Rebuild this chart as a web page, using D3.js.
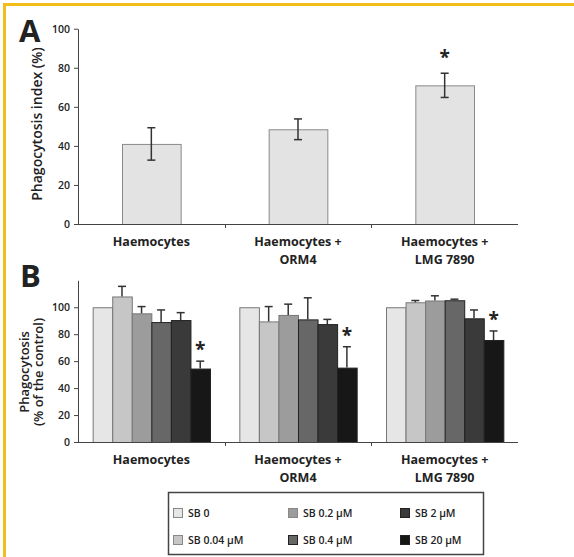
<!DOCTYPE html>
<html>
<head>
<meta charset="utf-8">
<script src="https://cdn.jsdelivr.net/npm/d3@7"></script>
<style>
  body { margin: 0; background: #fff; }
  svg { display: block; }
  text { font-family: "Open Sans", "DejaVu Sans", sans-serif; fill: #222; }
</style>
</head>
<body>
<svg id="chart"></svg>
<script>
// groups shared by both panels
var groupLabels = [["Haemocytes"], ["Haemocytes +", "ORM4"], ["Haemocytes +", "LMG 7890"]];

// panel A: phagocytosis index (%)
var indexA = [41, 48.5, 71];
var errA = [8.3, 5.3, 6.2];
var sigA = [false, false, true];
var ticksA = [0, 20, 40, 60, 80, 100];

// panel B: phagocytosis (% of the control), one row per group, one column per dose
var doses = ["SB 0", "SB 0.04 \u00b5M", "SB 0.2 \u00b5M", "SB 0.4 \u00b5M", "SB 2 \u00b5M", "SB 20 \u00b5M"];
var valuesB = [
	[100, 108, 95.5, 89, 90.5, 54.5],
	[100, 89.5, 94.3, 91, 87.5, 55.2],
	[100, 103.7, 105, 105.2, 91.8, 75.7]
];
var errB = [
	[0, 7.5, 5, 9, 5.5, 5.5],
	[0, 11, 8, 16, 3.5, 15.5],
	[0, 1.3, 3.5, 0.8, 6.2, 6.7]
];
var sigB = [
	[false, false, false, false, false, true],
	[false, false, false, false, false, true],
	[false, false, false, false, false, true]
];
var ticksB = [0, 20, 40, 60, 80, 100];

var doseColors = ["#e6e6e6", "#c6c6c6", "#9c9c9c", "#676767", "#3a3a3a", "#171717"];

var w = 574, h = 557;
var svg = d3.select('#chart').attr('width', w).attr('height', h);
svg.append('rect').attr('width', w).attr('height', h).attr('fill', '#fff');

// yellow frame (top and left only)
svg.append('path')
	.attr('d', 'M4.5,' + h + 'V4.5H' + w)
	.attr('fill', 'none')
	.attr('stroke', '#f3bd1b')
	.attr('stroke-width', 3);

var x0 = 78, x1 = 518;
var axisColor = '#444';

function styleAxis(g) {
	g.select('.domain').attr('stroke', axisColor);
	g.selectAll('.tick line').attr('stroke', axisColor);
	g.selectAll('.tick text')
		.attr('font-family', '"Open Sans", sans-serif')
		.attr('font-size', '10.5px')
		.attr('font-weight', 600)
		.attr('fill', '#333');
}

function categoryAxis(baseY) {
	var xs = d3.scaleBand().domain(d3.range(groupLabels.length)).range([x0, x1]);
	svg.append('line')
		.attr('x1', x0).attr('x2', x1)
		.attr('y1', baseY + 0.5).attr('y2', baseY + 0.5)
		.attr('stroke', axisColor);
	svg.selectAll(null)
		.data(d3.range(1, groupLabels.length))
		.join('line')
		.attr('x1', function(d) { return Math.round(xs(d)) + 0.5; })
		.attr('x2', function(d) { return Math.round(xs(d)) + 0.5; })
		.attr('y1', baseY).attr('y2', baseY + 4)
		.attr('stroke', axisColor);
	var lab = svg.selectAll(null)
		.data(groupLabels)
		.join('text')
		.attr('text-anchor', 'middle')
		.attr('font-size', '12.5px')
		.attr('font-weight', 700)
		.attr('fill', '#222');
	lab.selectAll('tspan')
		.data(function(d, i) { return d.map(function(t) { return {t: t, i: i}; }); })
		.join('tspan')
		.attr('x', function(d) { return xs(d.i) + xs.bandwidth() / 2; })
		.attr('y', function(d, j) { return baseY + 22 + j * 18; })
		.text(function(d) { return d.t; });
}

// ---------- panel A ----------
var yA = d3.scaleLinear().domain([0, 100]).range([224, 28.7]);
var xA = d3.scaleBand().domain(d3.range(indexA.length)).range([x0, x1])
	.paddingInner(0.6).paddingOuter(0.3);

var gA = svg.append('g').attr('transform', 'translate(' + x0 + ',0)')
	.call(d3.axisLeft(yA).tickValues(ticksA).tickSize(4).tickPadding(4).tickSizeOuter(0));
styleAxis(gA);

svg.selectAll('.barA')
	.data(indexA)
	.join('rect')
	.attr('class', 'barA')
	.attr('x', function(d, i) { return xA(i) + 0.5; })
	.attr('y', function(d) { return yA(d) + 0.5; })
	.attr('width', xA.bandwidth())
	.attr('height', function(d) { return yA(0) - yA(d); })
	.attr('fill', '#e3e3e3')
	.attr('stroke', '#8a8a8a');

indexA.forEach(function(v, i) {
	var cx = xA(i) + xA.bandwidth() / 2;
	var top = yA(v + errA[i]), bot = yA(v - errA[i]);
	svg.append('line').attr('x1', cx).attr('x2', cx).attr('y1', top).attr('y2', bot)
		.attr('stroke', '#333').attr('stroke-width', 1.5);
	[top, bot].forEach(function(yy) {
		svg.append('line').attr('x1', cx - 4).attr('x2', cx + 4).attr('y1', yy).attr('y2', yy)
			.attr('stroke', '#333').attr('stroke-width', 1.5);
	});
	if (sigA[i]) {
		svg.append('text').attr('x', cx).attr('y', top - 9)
			.attr('text-anchor', 'middle').attr('font-size', '19px').attr('font-weight', 700)
			.text('*');
	}
});

categoryAxis(224);

svg.append('text')
	.attr('transform', 'translate(42,124) rotate(-90)')
	.attr('text-anchor', 'middle')
	.attr('font-size', '14px')
	.attr('font-weight', 600)
	.text('Phagocytosis index (%)');

svg.append('text').attr('x', 19).attr('y', 42)
	.attr('font-family', '"Liberation Sans", Arial, sans-serif')
	.attr('font-size', '31px').attr('font-weight', 700).attr('fill', '#111')
	.text('A');

// ---------- panel B ----------
var yB = d3.scaleLinear().domain([0, 120]).range([442, 280.3]);
var xB = d3.scaleBand().domain(d3.range(groupLabels.length)).range([x0, x1])
	.paddingInner(0.2).paddingOuter(0.1);
var xBi = d3.scaleBand().domain(d3.range(doses.length)).range([0, xB.bandwidth()]);

var gB = svg.append('g').attr('transform', 'translate(' + x0 + ',0)')
	.call(d3.axisLeft(yB).tickValues(ticksB).tickSize(4).tickPadding(4).tickSizeOuter(0));
styleAxis(gB);

var grp = svg.selectAll('.grpB')
	.data(valuesB)
	.join('g')
	.attr('class', 'grpB')
	.attr('transform', function(d, i) { return 'translate(' + xB(i) + ',0)'; });

grp.selectAll('rect')
	.data(function(d) { return d; })
	.join('rect')
	.attr('x', function(d, j) { return xBi(j) + 0.5; })
	.attr('y', function(d) { return yB(d) + 0.5; })
	.attr('width', xBi.bandwidth())
	.attr('height', function(d) { return yB(0) - yB(d); })
	.attr('fill', function(d, j) { return doseColors[j]; })
	.attr('stroke', function(d, j) { return j < 3 ? '#777' : '#222'; });

valuesB.forEach(function(row, i) {
	row.forEach(function(v, j) {
		var cx = xB(i) + xBi(j) + xBi.bandwidth() / 2;
		var e = errB[i][j];
		var top = yB(v + e);
		if (e > 0) {
			svg.append('line').attr('x1', cx).attr('x2', cx).attr('y1', top).attr('y2', yB(v))
				.attr('stroke', '#333').attr('stroke-width', 1.5);
			svg.append('line').attr('x1', cx - 4).attr('x2', cx + 4).attr('y1', top).attr('y2', top)
				.attr('stroke', '#333').attr('stroke-width', 1.5);
		}
		if (sigB[i][j]) {
			svg.append('text').attr('x', cx).attr('y', top - 5)
				.attr('text-anchor', 'middle').attr('font-size', '19px').attr('font-weight', 700)
				.text('*');
		}
	});
});

categoryAxis(442);

svg.append('text')
	.attr('transform', 'translate(29,372) rotate(-90)')
	.attr('text-anchor', 'middle')
	.attr('font-size', '13px')
	.attr('font-weight', 600)
	.text('Phagocytosis');
svg.append('text')
	.attr('transform', 'translate(43,372) rotate(-90)')
	.attr('text-anchor', 'middle')
	.attr('font-size', '13px')
	.attr('font-weight', 600)
	.text('(% of the control)');

svg.append('text').attr('x', 20).attr('y', 287)
	.attr('font-family', '"Liberation Sans", Arial, sans-serif')
	.attr('font-size', '31px').attr('font-weight', 700).attr('fill', '#111')
	.text('B');

// ---------- legend ----------
var leg = svg.append('g');
leg.append('rect')
	.attr('x', 168.5).attr('y', 492.5).attr('width', 315).attr('height', 62)
	.attr('fill', '#fff').attr('stroke', '#444').attr('stroke-width', 1.5);

var colX = [173, 288, 400];
var rowY = [508, 535];
var item = leg.selectAll('.item')
	.data(doses)
	.join('g')
	.attr('class', 'item')
	.attr('transform', function(d, i) {
		return 'translate(' + colX[Math.floor(i / 2)] + ',' + rowY[i % 2] + ')';
	});
item.append('rect')
	.attr('x', 0.5).attr('y', 0.5).attr('width', 9).attr('height', 9)
	.attr('fill', function(d, i) { return doseColors[i]; })
	.attr('stroke', function(d, i) { return i < 3 ? '#888' : '#222'; });
item.append('text')
	.attr('x', 15).attr('y', 8.5)
	.attr('font-size', '10.5px')
	.attr('font-weight', 600)
	.attr('fill', '#333')
	.text(function(d) { return d; });
</script>
</body>
</html>
